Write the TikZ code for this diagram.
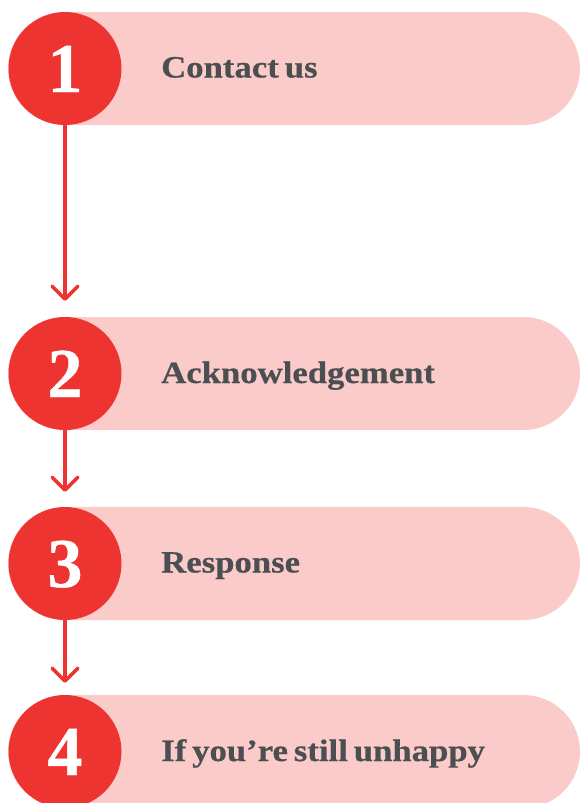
\documentclass[tikz,border=0pt]{standalone}
\usepackage{fontspec}
\setmainfont{Liberation Serif}
\newfontfamily\labfont{Liberation Serif}[UprightFont={* Bold}, FakeStretch=1.12, WordSpace=0.68, FakeBold=0.5]
\newfontfamily\numfont{Liberation Serif}[UprightFont={* Bold}, FakeBold=0.6]
\usetikzlibrary{arrows.meta,shapes.misc}
\definecolor{stepred}{HTML}{EE3431}
\definecolor{steppink}{HTML}{FACBC9}
\definecolor{steptext}{HTML}{4B4F52}
\begin{document}
\begin{tikzpicture}[x=1pt,y=-1pt,
  barbox/.style={rounded rectangle, fill=steppink, draw=none, minimum width=572pt, minimum height=113pt, inner sep=0pt},
  numcircle/.style={circle, fill=stepred, draw=none, minimum size=113pt, inner sep=0pt, text=white,
    font=\numfont\fontsize{70}{70}\selectfont, text height=47pt, text depth=0pt},
  steplabel/.style={anchor=west, inner sep=0pt, text=steptext,
    font=\labfont\fontsize{31}{31}\selectfont, text height=21pt, text depth=0pt},
  flow/.style={draw=stepred, line width=3.5pt, -{Straight Barb[length=13pt,width=26pt,round]}}]
\useasboundingbox (0,0) rectangle (581,803);
% bars
\node[barbox] (b1) at (294,68.5) {};
\node[barbox] (b2) at (294,373.5) {};
\node[barbox] (b3) at (294,563.5) {};
\node[barbox] (b4) at (294,751.5) {};
% labels
\node[steplabel] (t1) at (161,67) {Contact us};
\node[steplabel] (t2) at (161,372.5) {Acknowledgement};
\node[steplabel] (t3) at (161,562) {Response};
\node[steplabel] (t4) at (161,750.5) {If you’re still unhappy};
% circles
\node[numcircle] (c1) at (65,68.5) {1};
\node[numcircle] (c2) at (65,373.5) {2};
\node[numcircle] (c3) at (65,563.5) {3};
\node[numcircle] (c4) at (65,751.5) {4};
% arrows
\draw[flow, shorten >=16pt] (c1) -- (c2);
\draw[flow, shorten >=15pt] (c2) -- (c3);
\draw[flow, shorten >=12pt] (c3) -- (c4);
\end{tikzpicture}
\end{document}
